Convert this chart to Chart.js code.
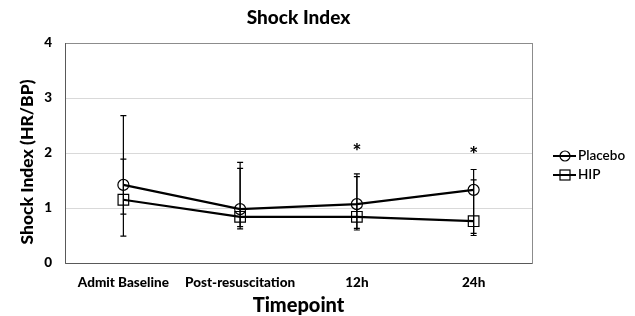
<!DOCTYPE html>
<html>
<head>
<meta charset="utf-8">
<script src="https://cdn.jsdelivr.net/npm/chart.js@4"></script>
<style>
  body { margin: 0; background: #fff; }
  #wrap { width: 635px; height: 316px; }
</style>
</head>
<body>
<div id="wrap"><canvas id="shock-chart" width="635" height="316"></canvas></div>
<script>
// data
const timepoints = ['Admit Baseline', 'Post-resuscitation', '12h', '24h'];
const placebo = [1.42, 0.98, 1.07, 1.33];
const placeboLow = [0.89, 0.66, 0.63, 0.54];
const placeboHigh = [2.68, 1.83, 1.62, 1.70];
const hip = [1.15, 0.84, 0.84, 0.76];
const hipLow = [0.49, 0.62, 0.60, 0.50];
const hipHigh = [1.89, 1.72, 1.57, 1.51];
// significance markers (* above 12h and 24h)
const sigMarks = [null, null, 2.09, 2.04];
const yTicks = [0, 1, 2, 3, 4];
const chartTitle = 'Shock Index';
const yTitle = 'Shock Index (HR/BP)';

const FONT = 'Lato, Carlito, Calibri, sans-serif';

// error bars + asterisks
const errorBars = {
    id: 'errorBars',
    afterDatasetsDraw(chart) {
        const ctx = chart.ctx;
        const x = chart.scales.x, y = chart.scales.y;
        const sets = [[placeboLow, placeboHigh], [hipLow, hipHigh]];
        ctx.save();
        ctx.strokeStyle = '#000';
        ctx.lineWidth = 1.2;
        sets.forEach(([lo, hi]) => {
            lo.forEach((v, i) => {
                const px = x.getPixelForValue(i);
                const y1 = y.getPixelForValue(v), y2 = y.getPixelForValue(hi[i]);
                ctx.beginPath();
                ctx.moveTo(px, y1); ctx.lineTo(px, y2);
                ctx.moveTo(px - 3, y1); ctx.lineTo(px + 3, y1);
                ctx.moveTo(px - 3, y2); ctx.lineTo(px + 3, y2);
                ctx.stroke();
            });
        });
        ctx.fillStyle = '#000';
        ctx.font = '900 21px ' + FONT;
        ctx.textAlign = 'center';
        ctx.textBaseline = 'middle';
        sigMarks.forEach((v, i) => {
            if (v == null) return;
            ctx.fillText('*', x.getPixelForValue(i), y.getPixelForValue(v) + 4);
        });
        ctx.restore();
    }
};

// plot border, titles, excel-like legend with line through marker
const frameLegend = {
    id: 'frameLegend',
    beforeDatasetsDraw(chart) {
        const a = chart.chartArea, ctx = chart.ctx;
        ctx.save();
        ctx.strokeStyle = '#8c8c8c';
        ctx.lineWidth = 1;
        ctx.strokeRect(a.left + 0.5, a.top + 0.5, a.right - a.left, a.bottom - a.top);
        ctx.strokeStyle = '#595959';
        ctx.beginPath();
        ctx.moveTo(a.left + 0.5, a.top); ctx.lineTo(a.left + 0.5, a.bottom + 0.5);
        ctx.lineTo(a.right, a.bottom + 0.5);
        ctx.stroke();
        ctx.restore();
    },
    afterDraw(chart) {
        const ctx = chart.ctx, a = chart.chartArea;
        ctx.save();
        ctx.fillStyle = '#000';
        ctx.font = '900 19px ' + FONT;
        ctx.textAlign = 'center';
        ctx.textBaseline = 'middle';
        ctx.fillText(chartTitle, (a.left + a.right) / 2, 18);

        ctx.save();
        ctx.translate(27, 162);
        ctx.rotate(-Math.PI / 2);
        ctx.font = '900 17.5px ' + FONT;
        ctx.fillText(yTitle, 0, 0);
        ctx.restore();

        const rows = [156, 175];
        ctx.textAlign = 'left';
        chart.data.datasets.forEach((ds, i) => {
            const yy = rows[i], x0 = 553, x1 = 576, cx = 565;
            ctx.strokeStyle = '#000';
            ctx.lineWidth = 2;
            ctx.beginPath(); ctx.moveTo(x0, yy); ctx.lineTo(x1, yy); ctx.stroke();
            ctx.lineWidth = 1.2;
            if (ds.pointStyle === 'circle') {
                ctx.beginPath(); ctx.arc(cx, yy, 5, 0, Math.PI * 2); ctx.stroke();
            } else {
                ctx.strokeRect(cx - 5, yy - 5, 10, 10);
            }
            ctx.fillStyle = '#000';
            ctx.font = '600 13.5px ' + FONT;
            ctx.textBaseline = 'middle';
            ctx.fillText(ds.label, x1 + 2, yy);
        });
        ctx.restore();
    }
};

new Chart(document.getElementById('shock-chart'), {
    type: 'line',
    data: {
        labels: timepoints,
        datasets: [{
            label: 'Placebo',
            data: placebo,
            borderColor: '#000',
            borderWidth: 2.2,
            pointStyle: 'circle',
            pointRadius: 5.5,
            pointBorderWidth: 1.2,
            pointBackgroundColor: 'rgba(255,255,255,0)',
            pointBorderColor: '#000',
            fill: false
        }, {
            label: 'HIP',
            data: hip,
            borderColor: '#000',
            borderWidth: 2.2,
            pointStyle: 'rect',
            pointRadius: 7.5,
            pointBorderWidth: 1.2,
            pointBackgroundColor: 'rgba(255,255,255,0)',
            pointBorderColor: '#000',
            fill: false
        }]
    },
    options: {
        responsive: false,
        animation: false,
        layout: { padding: { left: 0, right: 103, top: 43, bottom: 0 } },
        plugins: {
            legend: { display: false },
            tooltip: { enabled: false },
            title: { display: false }
        },
        scales: {
            x: {
                offset: true,
                grid: { display: false, drawTicks: false },
                border: { display: false },
                ticks: {
                    color: '#000',
                    padding: 12,
                    font: { family: FONT, size: 13.5, weight: '900' },
                    maxRotation: 0
                },
                title: {
                    display: true,
                    text: 'Timepoint',
                    color: '#000',
                    font: { family: FONT, size: 20, weight: '900', lineHeight: 1.0 },
                    padding: { top: 2, bottom: 0 }
                },
                afterFit(s) { s.height = 53; }
            },
            y: {
                min: 0,
                max: 4,
                afterBuildTicks(s) { s.ticks = yTicks.map(v => ({ value: v })); },
                grid: {
                    color: (c) => (c.tick.value === 0 || c.tick.value === 4) ? 'rgba(0,0,0,0)' : '#d9d9d9',
                    lineWidth: 1,
                    drawTicks: false
                },
                border: { display: false },
                ticks: {
                    color: '#000',
                    padding: 13,
                    font: { family: FONT, size: 13.5, weight: '900' }
                },
                afterFit(s) { s.width = 65; }
            }
        }
    },
    plugins: [frameLegend, errorBars]
});
</script>
</body>
</html>
